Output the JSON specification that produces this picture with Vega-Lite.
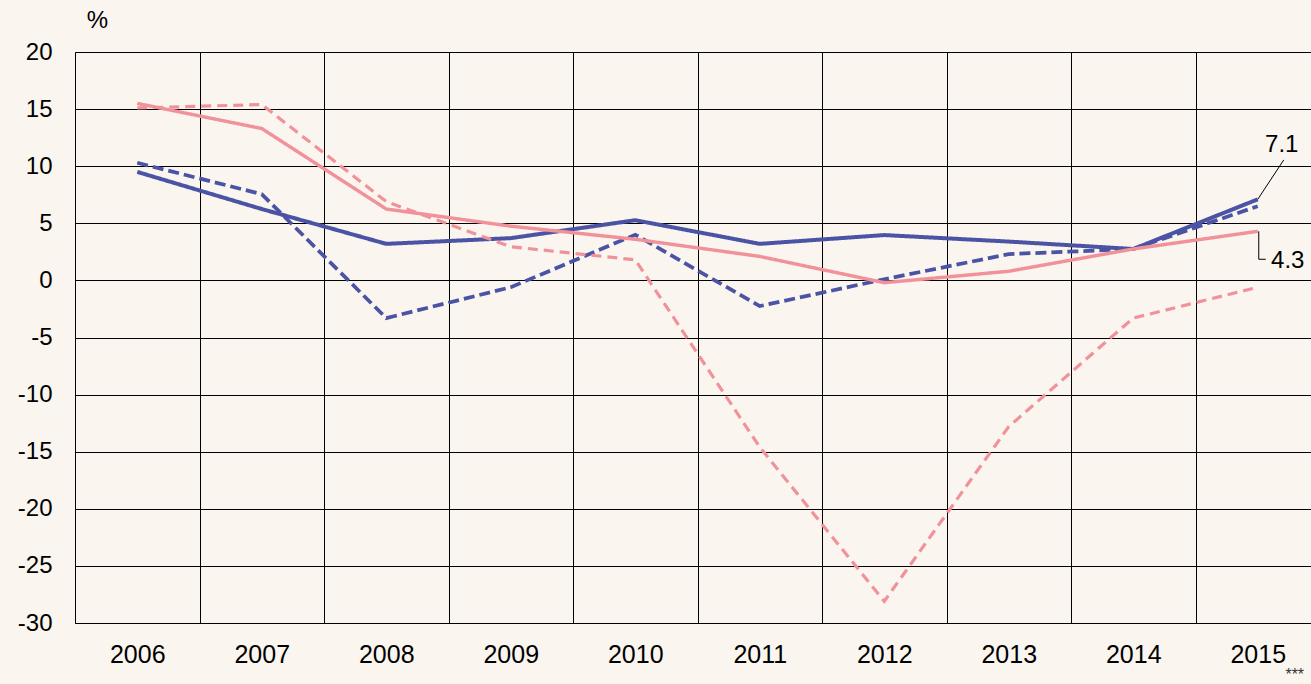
{
  "$schema": "https://vega.github.io/schema/vega-lite/v6.json",
  "autosize": "none",
  "width": 1245,
  "height": 571,
  "padding": {"left": 75, "top": 52, "right": 0, "bottom": 61},
  "background": "#FAF6EF",
  "config": {
    "view": {"stroke": null},
    "font": "Liberation Sans",
    "axis": {"labelFont": "Liberation Sans", "labelColor": "#000", "labelFontSize": 24}
  },
  "datasets": {
    "series": [
      {"year": "2006", "s": "A", "v": 9.5},
      {"year": "2007", "s": "A", "v": 6.25},
      {"year": "2008", "s": "A", "v": 3.2},
      {"year": "2009", "s": "A", "v": 3.7},
      {"year": "2010", "s": "A", "v": 5.27},
      {"year": "2011", "s": "A", "v": 3.2},
      {"year": "2012", "s": "A", "v": 3.97},
      {"year": "2013", "s": "A", "v": 3.4},
      {"year": "2014", "s": "A", "v": 2.75},
      {"year": "2015", "s": "A", "v": 7.1},
      {"year": "2006", "s": "B", "v": 10.3},
      {"year": "2007", "s": "B", "v": 7.55},
      {"year": "2008", "s": "B", "v": -3.3},
      {"year": "2009", "s": "B", "v": -0.6},
      {"year": "2010", "s": "B", "v": 4.0},
      {"year": "2011", "s": "B", "v": -2.25},
      {"year": "2012", "s": "B", "v": 0.1},
      {"year": "2013", "s": "B", "v": 2.3},
      {"year": "2014", "s": "B", "v": 2.75},
      {"year": "2015", "s": "B", "v": 6.5},
      {"year": "2006", "s": "C", "v": 15.5},
      {"year": "2007", "s": "C", "v": 13.3},
      {"year": "2008", "s": "C", "v": 6.25},
      {"year": "2009", "s": "C", "v": 4.75},
      {"year": "2010", "s": "C", "v": 3.6},
      {"year": "2011", "s": "C", "v": 2.1},
      {"year": "2012", "s": "C", "v": -0.2},
      {"year": "2013", "s": "C", "v": 0.8},
      {"year": "2014", "s": "C", "v": 2.75},
      {"year": "2015", "s": "C", "v": 4.3},
      {"year": "2006", "s": "D", "v": 15.1},
      {"year": "2007", "s": "D", "v": 15.4},
      {"year": "2008", "s": "D", "v": 6.9},
      {"year": "2009", "s": "D", "v": 2.95},
      {"year": "2010", "s": "D", "v": 1.8},
      {"year": "2011", "s": "D", "v": -14.6},
      {"year": "2012", "s": "D", "v": -28.1},
      {"year": "2013", "s": "D", "v": -12.8},
      {"year": "2014", "s": "D", "v": -3.3},
      {"year": "2015", "s": "D", "v": -0.6}
    ]
  },
  "encoding": {
    "x": {
      "field": "year",
      "type": "ordinal",
      "scale": {"domain": ["2006","2007","2008","2009","2010","2011","2012","2013","2014","2015"], "paddingInner": 0, "paddingOuter": 0},
      "axis": {
        "title": null,
        "labelAngle": 0,
        "labelFontSize": 25,
        "tickBand": "extent",
        "grid": true,
        "gridColor": "#000",
        "gridWidth": 1,
        "ticks": false,
        "tickSize": 0,
        "domain": false,
        "labelPadding": 19
      }
    }
  },
  "layer": [
    {
      "data": {"name": "series"},
      "mark": {"type": "line", "strokeCap": "butt"},
      "encoding": {
        "y": {
          "field": "v",
          "type": "quantitative",
          "scale": {"domain": [-30, 20], "nice": false, "zero": false},
          "axis": {
            "values": [-30, -25, -20, -15, -10, -5, 0, 5, 10, 15, 20],
            "labelExpr": "'' + datum.value",
            "grid": true,
            "gridColor": "#000",
            "gridWidth": 1,
            "ticks": false,
            "tickSize": 0,
            "domain": true,
            "domainColor": "#000",
            "labelPadding": 23,
            "title": "%",
            "titleAngle": 0,
            "titleFont": "Liberation Sans",
            "titleFontSize": 24,
            "titleFontWeight": "normal",
            "titleAlign": "center",
            "titleBaseline": "middle",
            "titleX": 22,
            "titleY": -32
          }
        },
        "color": {
          "field": "s",
          "type": "nominal",
          "scale": {"domain": ["A", "B", "C", "D"], "range": ["#4B53A5", "#4B53A5", "#F1929B", "#F1929B"]},
          "legend": null
        },
        "strokeDash": {
          "field": "s",
          "type": "nominal",
          "scale": {"domain": ["A", "B", "C", "D"], "range": [[1, 0], [11, 5], [1, 0], [10, 6]]},
          "legend": null
        },
        "strokeWidth": {
          "field": "s",
          "type": "nominal",
          "scale": {"domain": ["A", "B", "C", "D"], "range": [4, 3.2, 4, 2.8]},
          "legend": null
        },
        "order": {"field": "s", "type": "nominal"}
      }
    },
    {
      "data": {"values": [{"year": "2015", "y1": 7.1, "y2": 10.55}]},
      "mark": {"type": "rule", "color": "#000", "strokeWidth": 1, "x2Offset": 26},
      "encoding": {
        "x2": {"field": "year"},
        "y": {"field": "y1", "type": "quantitative"},
        "y2": {"field": "y2"}
      }
    },
    {
      "data": {"values": [{"year": "2015", "y1": 4.3, "y2": 1.85}]},
      "mark": {"type": "rule", "color": "#000", "strokeWidth": 1, "xOffset": 1},
      "encoding": {
        "y": {"field": "y1", "type": "quantitative"},
        "y2": {"field": "y2"}
      }
    },
    {
      "data": {"values": [{"year": "2015", "y1": 1.85}]},
      "mark": {"type": "rule", "color": "#000", "strokeWidth": 1, "xOffset": 1, "x2Offset": 8},
      "encoding": {
        "x2": {"field": "year"},
        "y": {"field": "y1", "type": "quantitative"}
      }
    },
    {
      "data": {"values": [{"year": "2015", "v": 7.1, "label": "7.1"}]},
      "mark": {"type": "text", "font": "Liberation Sans", "fontSize": 24, "color": "#000", "align": "center", "baseline": "alphabetic", "dx": 24, "dy": -47},
      "encoding": {
        "y": {"field": "v", "type": "quantitative"},
        "text": {"field": "label"}
      }
    },
    {
      "data": {"values": [{"year": "2015", "v": 4.3, "label": "4.3"}]},
      "mark": {"type": "text", "font": "Liberation Sans", "fontSize": 24, "color": "#000", "align": "center", "baseline": "alphabetic", "dx": 30, "dy": 37},
      "encoding": {
        "y": {"field": "v", "type": "quantitative"},
        "text": {"field": "label"}
      }
    },
    {
      "data": {"values": [{"year": "2015", "v": -30, "label": "***"}]},
      "mark": {"type": "text", "font": "Liberation Sans", "fontSize": 16, "color": "#333", "align": "center", "baseline": "bottom", "dx": 37, "dy": 60},
      "encoding": {
        "y": {"field": "v", "type": "quantitative"},
        "text": {"field": "label"}
      }
    }
  ]
}
